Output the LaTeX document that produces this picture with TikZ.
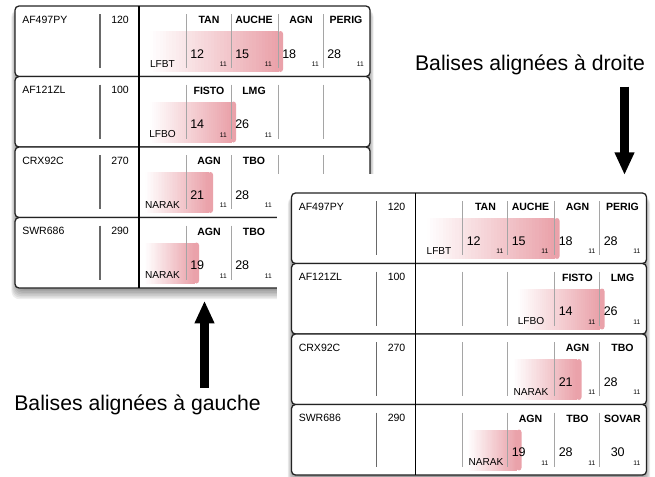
\documentclass[tikz,border=0pt]{standalone}
\usepackage{fontspec}
\setmainfont{Liberation Sans}
\usetikzlibrary{arrows.meta}
\definecolor{pinkend}{RGB}{234,162,170}
\definecolor{framecol}{RGB}{35,35,35}
\definecolor{barcol}{RGB}{105,105,105}
\definecolor{divcol}{RGB}{165,165,165}
\tikzset{
  rowframe/.style={draw=framecol, line width=0.95pt, rounded corners=3pt, fill=white},
  maindiv/.style={draw=black, line width=0.8pt},
  levelbar/.style={draw=barcol, line width=1.3pt},
  coldiv/.style={draw=divcol, line width=0.6pt},
  calltxt/.style={font=\fontsize{7.9pt}{9pt}\selectfont, inner sep=0pt},
  hdrtxt/.style={font=\bfseries\fontsize{7.9pt}{9pt}\selectfont, inner sep=0pt},
  numtxt/.style={font=\fontsize{9.4pt}{10pt}\selectfont, inner sep=0pt},
  smalltxt/.style={font=\fontsize{5pt}{6pt}\selectfont, inner sep=0pt},
  aptxt/.style={font=\fontsize{7.6pt}{9pt}\selectfont, inner sep=0pt},
  captxt/.style={font=\fontsize{15.9pt}{18pt}\selectfont, inner sep=0pt},
  bigarrow/.style={line width=7.2pt, -{Triangle[width=13.8pt,length=17pt]}},
}
% gradient band from x=#1 to x=#2 (white -> pink)
\newcommand\glowbox[2]{%
  \pgfmathsetmacro\gw{(#2-5-#1)/40}%
  \foreach \i in {0,...,39} {%
    \pgfmathsetmacro\pct{100*(\i+0.5)/40}%
    \fill[pinkend!\pct!white] (#1+\i*\gw,25) rectangle (#1+\i*\gw+\gw+0.5,66);
  }%
  \fill[pinkend, rounded corners=2pt] (#2-5,25) rectangle (#2,66);
}
% row base: #1 name, #2 callsign, #3 level, #4 glow start, #5 glow end
\newcommand\rowbase[5]{%
  \draw[rowframe] (0,0) rectangle (355,70.5);
  \glowbox{#4}{#5}
  \draw[levelbar] (85,8) -- (85,62);
  \foreach \xx in {171,216,263,308} {\draw[coldiv] (\xx,8) -- (\xx,62);}
  \node[calltxt, anchor=base west] (#1c) at (7,17) {#2};
  \node[calltxt, anchor=base west] (#1l) at (96,17) {#3};
}
% beacon: [#1 number offset] #2 name, #3 column left, #4 header, #5 number
\newcommand\bcn[5][4]{%
  \node[hdrtxt, anchor=base] (#2h) at (#3+23,17.5) {#4};
  \node[numtxt, anchor=base west] (#2n) at (#3+#1,52) {#5};
  \node[smalltxt, anchor=base east] (#2s) at (#3+41,60.5) {11};
}
% airport: #1 name, #2 column left, #3 text
\newcommand\apt[3]{\node[aptxt, anchor=base] (#1) at (#2+23.5,61) {#3};}
\newcommand\panelshadow{%
  \foreach \s in {1,...,7} {\fill[black, opacity=0.07, rounded corners=6pt]
    (2-0.8*\s,3) rectangle (353+0.8*\s,282+1.6*\s);}}
\begin{document}
\begin{tikzpicture}[x=0.75pt,y=-0.75pt]
\useasboundingbox (0,0) rectangle (655,476);

% ---------- left panel ----------
\begin{scope}[shift={(15,6)}]
  \panelshadow
  \begin{scope}
    \rowbase{L1}{AF497PY}{120}{135}{268}
    \apt{L1a}{124}{LFBT}
    \bcn{L1b}{171}{TAN}{12}
    \bcn{L1c}{216}{AUCHE}{15}
    \bcn{L1d}{263}{AGN}{18}
    \bcn{L1e}{308}{PERIG}{28}
  \end{scope}
  \begin{scope}[shift={(0,70.5)}]
    \rowbase{L2}{AF121ZL}{100}{135}{221}
    \apt{L2a}{124}{LFBO}
    \bcn{L2b}{171}{FISTO}{14}
    \bcn{L2c}{216}{LMG}{26}
  \end{scope}
  \begin{scope}[shift={(0,141)}]
    \rowbase{L3}{CRX92C}{270}{130}{198}
    \apt{L3a}{124}{NARAK}
    \bcn{L3b}{171}{AGN}{21}
    \bcn{L3c}{216}{TBO}{28}
  \end{scope}
  \begin{scope}[shift={(0,211.5)}]
    \rowbase{L4}{SWR686}{290}{130}{184}
    \apt{L4a}{124}{NARAK}
    \bcn{L4b}{171}{AGN}{19}
    \bcn{L4c}{216}{TBO}{28}
  \end{scope}
  \draw[maindiv] (124,0) -- (124,282);
\end{scope}

% white backdrop of the right panel
\fill[white] (277,174) rectangle (655,476);

% ---------- right panel ----------
\begin{scope}[shift={(291.5,193)}]
  \panelshadow
  \begin{scope}
    \rowbase{R1}{AF497PY}{120}{135}{268}
    \apt{R1a}{124}{LFBT}
    \bcn{R1b}{171}{TAN}{12}
    \bcn{R1c}{216}{AUCHE}{15}
    \bcn{R1d}{263}{AGN}{18}
    \bcn{R1e}{308}{PERIG}{28}
  \end{scope}
  \begin{scope}[shift={(0,70.5)}]
    \rowbase{R2}{AF121ZL}{100}{226}{313}
    \apt{R2a}{216}{LFBO}
    \bcn{R2d}{263}{FISTO}{14}
    \bcn{R2e}{308}{LMG}{26}
  \end{scope}
  \begin{scope}[shift={(0,141)}]
    \rowbase{R3}{CRX92C}{270}{222}{290}
    \apt{R3a}{216}{NARAK}
    \bcn{R3d}{263}{AGN}{21}
    \bcn{R3e}{308}{TBO}{28}
  \end{scope}
  \begin{scope}[shift={(0,211.5)}]
    \rowbase{R4}{SWR686}{290}{176}{230}
    \apt{R4a}{171}{NARAK}
    \bcn{R4c}{216}{AGN}{19}
    \bcn{R4d}{263}{TBO}{28}
    \bcn[11]{R4e}{308}{SOVAR}{30}
  \end{scope}
  \draw[maindiv] (124,0) -- (124,282);
\end{scope}

% ---------- captions and arrows ----------
\node[captxt, anchor=base] (capR) at (530,70) {Balises alignées à droite};
\node[captxt, anchor=base] (capL) at (137.5,410) {Balises alignées à gauche};
\coordinate (dnS) at (624.5,86.7);
\coordinate (dnE) at (624.5,175);
\coordinate (upS) at (204.5,388);
\coordinate (upE) at (204.5,300.7);
\draw[bigarrow] (dnS) -- (dnE);
\draw[bigarrow] (upS) -- (upE);
\end{tikzpicture}
\end{document}
